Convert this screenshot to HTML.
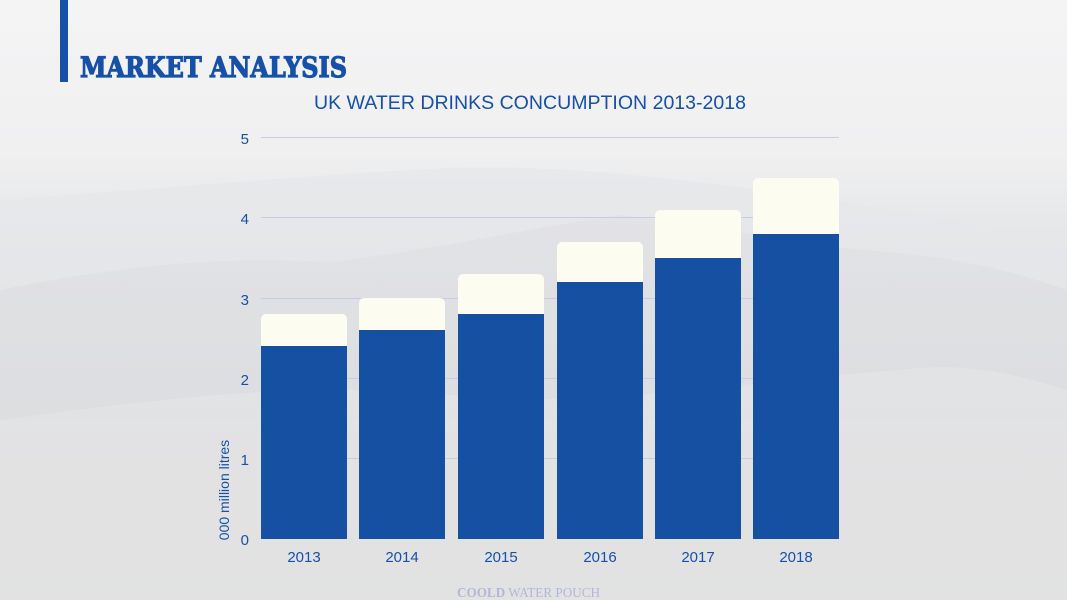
<!DOCTYPE html>
<html><head><meta charset="utf-8"><style>
html,body{margin:0;padding:0;}
body{width:1067px;height:600px;overflow:hidden;position:relative;font-family:"Liberation Sans",sans-serif;
background:linear-gradient(180deg,#f4f4f5 0%,#f0f0f1 25%,#e8e9ea 35%,#e0e1e3 50%,#dcdddf 65%,#e2e2e3 80%,#e9e9e9 100%);}
</style></head><body>
<svg width="1067" height="600" style="position:absolute;left:0;top:0">
<defs>
<linearGradient id="m1" x1="0" y1="0" x2="0" y2="1"><stop offset="0" stop-color="#dfe0e3"/><stop offset="1" stop-color="#d2d3d5"/></linearGradient>
</defs>
<path d="M0,200 C150,190 300,175 450,168 C550,165 650,175 760,190 C880,205 980,230 1067,235 L1067,600 L0,600Z" fill="#e6e7e9" opacity="0.7"/>
<path d="M0,290 C100,270 200,255 330,262 C430,250 520,230 620,215 C700,225 780,240 860,250 C950,255 1010,270 1067,290 L1067,600 L0,600Z" fill="url(#m1)" opacity="0.6"/>
<path d="M0,420 C150,400 300,380 450,395 C600,410 750,380 900,370 C980,360 1030,380 1067,390 L1067,600 L0,600Z" fill="#e6e6e6" opacity="0.6"/>
<rect x="60" y="0" width="8" height="82" fill="#1650a8"/>
<text x="80" y="77" font-family="DejaVu Serif,Liberation Serif,serif" font-weight="bold" font-size="28" fill="#1650a8" stroke="#1650a8" stroke-width="1.2" textLength="267" lengthAdjust="spacingAndGlyphs">MARKET ANALYSIS</text>
<text x="530" y="109" text-anchor="middle" font-size="19" fill="#1650a8" textLength="432" lengthAdjust="spacingAndGlyphs">UK WATER DRINKS CONCUMPTION 2013-2018</text>
<g stroke="#c8cbe6" stroke-width="1">
<line x1="261" x2="839" y1="137.5" y2="137.5"/>
<line x1="261" x2="839" y1="217.5" y2="217.5"/>
<line x1="261" x2="839" y1="298.5" y2="298.5"/>
<line x1="261" x2="839" y1="378.5" y2="378.5"/>
<line x1="261" x2="839" y1="458.5" y2="458.5"/>
</g>
<g font-size="15" fill="#1650a8" text-anchor="end">
<text x="249" y="144">5</text><text x="249" y="224">4</text><text x="249" y="305">3</text>
<text x="249" y="385">2</text><text x="249" y="465">1</text><text x="249" y="545">0</text>
</g>
<text transform="translate(229,490) rotate(-90)" text-anchor="middle" font-size="14" fill="#1650a8">000 million litres</text>
<g fill="#fdfcf0">
<path d="M261,346 V319 a5,5 0 0 1 5,-5 H342 a5,5 0 0 1 5,5 V346Z"/>
<path d="M359,330 V303 a5,5 0 0 1 5,-5 H440 a5,5 0 0 1 5,5 V330Z"/>
<path d="M458,314 V279 a5,5 0 0 1 5,-5 H539 a5,5 0 0 1 5,5 V314Z"/>
<path d="M557,282 V247 a5,5 0 0 1 5,-5 H638 a5,5 0 0 1 5,5 V282Z"/>
<path d="M655,258 V215 a5,5 0 0 1 5,-5 H736 a5,5 0 0 1 5,5 V258Z"/>
<path d="M753,234 V183 a5,5 0 0 1 5,-5 H834 a5,5 0 0 1 5,5 V234Z"/>
</g>
<g fill="#1650a3">
<rect x="261" y="346" width="86" height="193"/>
<rect x="359" y="330" width="86" height="209"/>
<rect x="458" y="314" width="86" height="225"/>
<rect x="557" y="282" width="86" height="257"/>
<rect x="655" y="258" width="86" height="281"/>
<rect x="753" y="234" width="86" height="305"/>
</g>
<g font-size="15" fill="#1650a8" text-anchor="middle">
<text x="304" y="562">2013</text><text x="402" y="562">2014</text><text x="501" y="562">2015</text>
<text x="600" y="562">2016</text><text x="698" y="562">2017</text><text x="796" y="562">2018</text>
</g>
<text x="457" y="597" font-family="Liberation Serif,serif" font-size="14" fill="#b4b6d8" textLength="143" lengthAdjust="spacingAndGlyphs"><tspan font-weight="bold">COOLD</tspan> WATER POUCH</text>
</svg>
</body></html>
